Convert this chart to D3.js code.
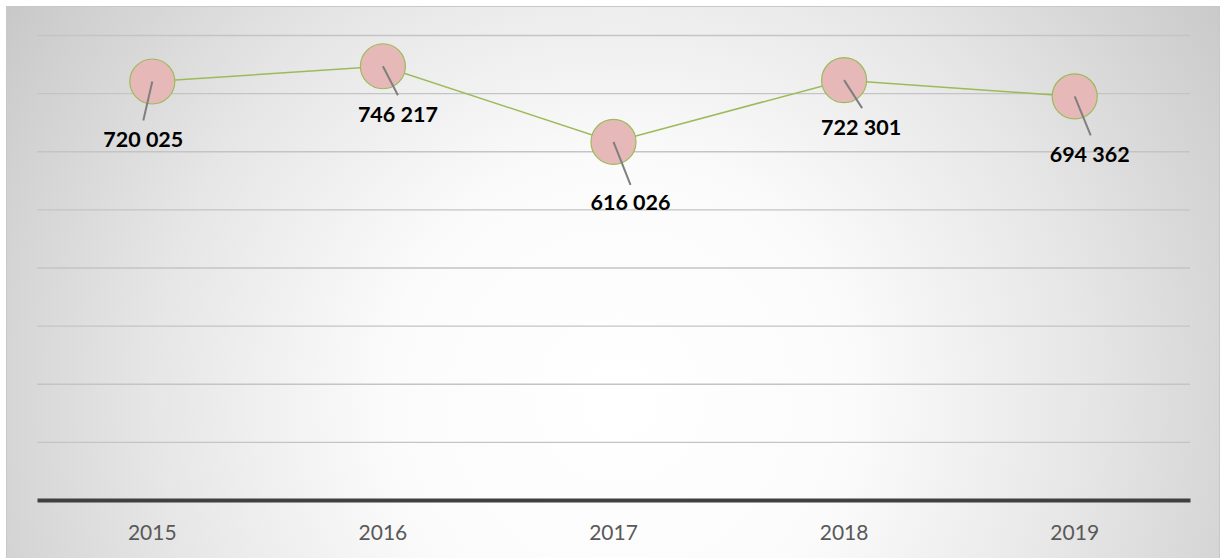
<!DOCTYPE html>
<html>
<head>
<meta charset="utf-8">
<script src="https://cdn.jsdelivr.net/npm/d3@7/dist/d3.min.js"></script>
<style>
  html, body { margin: 0; padding: 0; background: #ffffff; }
  svg { display: block; }
</style>
</head>
<body>
<svg id="chart" width="1223" height="558"></svg>
<script>
// ---- data ----
const categories = ["2015", "2016", "2017", "2018", "2019"];
const values = [720025, 746217, 616026, 722301, 694362];
const gridTicks = [100000, 200000, 300000, 400000, 500000, 600000, 700000, 800000];
const labelTexts = ["720 025", "746 217", "616 026", "722 301", "694 362"];
// manual label placement (dx, dy of label baseline-centre relative to point)
const labelOffsets = [[-9, 66], [15, 56], [17, 68], [17, 55], [15, 66]];
const leaderEnds = [[-9, 39], [15, 29], [17, 43], [18, 28], [16, 39]];

(function () {
const svg = d3.select("#chart");
const pL = 37, pR = 1190, pT = 35, pB = 500;

const defs = svg.append("defs");
const rg = defs.append("radialGradient")
  .attr("id", "bg").attr("gradientUnits", "userSpaceOnUse")
  .attr("cx", 620).attr("cy", 400).attr("r", 780);
rg.append("stop").attr("offset", 0).attr("stop-color", "#ffffff");
rg.append("stop").attr("offset", 0.3).attr("stop-color", "#fbfbfb");
rg.append("stop").attr("offset", 0.6).attr("stop-color", "#e6e6e6");
rg.append("stop").attr("offset", 0.85).attr("stop-color", "#d0d0d0");
rg.append("stop").attr("offset", 1).attr("stop-color", "#c2c2c2");

const lg = defs.append("linearGradient")
  .attr("id", "gridg").attr("gradientUnits", "userSpaceOnUse")
  .attr("x1", 0).attr("y1", pT).attr("x2", 0).attr("y2", pB);
lg.append("stop").attr("offset", 0).attr("stop-color", "#c4c4c4");
lg.append("stop").attr("offset", 1).attr("stop-color", "#979797");

// chart area background
svg.append("rect").attr("x", 6.5).attr("y", 6.5).attr("width", 1213).attr("height", 560)
  .attr("fill", "url(#bg)").attr("stroke", "#c8c8c8").attr("stroke-width", 1);

const x = d3.scaleBand().domain(categories).range([pL, pR]).padding(0);
const y = d3.scaleLinear().domain([0, 800000]).range([pB, pT]);

// gridlines
const grid = svg.append("g").attr("transform", `translate(${pL},0)`)
  .call(d3.axisLeft(y).tickValues(gridTicks).tickSize(-(pR - pL)).tickFormat(""));
grid.select(".domain").remove();
grid.selectAll(".tick line").attr("stroke", "url(#gridg)").attr("stroke-width", 1.3);

// x axis
const xa = svg.append("g").attr("transform", `translate(0,${pB})`)
  .call(d3.axisBottom(x).tickSize(0).tickPadding(25));
xa.select(".domain").attr("stroke", "#404040").attr("stroke-width", 4);
xa.selectAll("text").attr("fill", "#595959")
  .style("font-family", "Lato, 'Open Sans', sans-serif").style("font-size", "21px");

const cx = i => x(categories[i]) + x.bandwidth() / 2;

// line
const line = d3.line().x((d, i) => cx(i)).y(d => y(d));
svg.append("path").datum(values).attr("d", line)
  .attr("fill", "none").attr("stroke", "#9bbb59").attr("stroke-width", 1.5);

// markers
svg.append("g").selectAll("circle").data(values).join("circle")
  .attr("cx", (d, i) => cx(i)).attr("cy", d => y(d)).attr("r", 22.5)
  .attr("fill", "#e6b9b8").attr("stroke", "#9bbb59").attr("stroke-width", 1.2);

// leader lines
svg.append("g").selectAll("line").data(values).join("line")
  .attr("x1", (d, i) => cx(i)).attr("y1", d => y(d))
  .attr("x2", (d, i) => cx(i) + leaderEnds[i][0]).attr("y2", (d, i) => y(d) + leaderEnds[i][1])
  .attr("stroke", "#7f7f7f").attr("stroke-width", 2);

// labels
svg.append("g").selectAll("text").data(values).join("text")
  .attr("x", (d, i) => cx(i) + labelOffsets[i][0]).attr("y", (d, i) => y(d) + labelOffsets[i][1])
  .attr("text-anchor", "middle").attr("fill", "#000000")
  .style("font-family", "Lato, 'Open Sans', sans-serif").style("font-weight", "bold").style("font-size", "21.5px")
  .text((d, i) => labelTexts[i]);
})();
</script>
</body>
</html>
